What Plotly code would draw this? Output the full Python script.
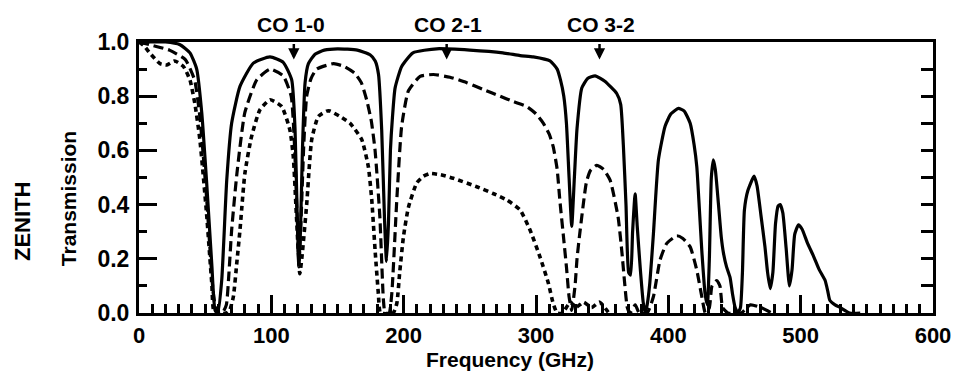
import plotly.graph_objects as go

# ---- data (frequency in GHz, zenith transmission) ----
solid_f = [0, 20, 31, 38.5, 43.6, 47.4, 51, 55, 57.5, 59.5, 62.5, 66.3, 70, 76.3, 86.4, 99, 109,
           115.4, 117.9, 119.6, 120.8, 122.0, 123.5, 125.5, 128, 133, 140, 150, 165, 174.6, 178.5,
           181, 183.4, 185.5, 187, 188.5, 190, 191.5, 193.5, 198.5, 207, 225, 250, 275, 288, 298,
           310.6, 316, 318.5, 321, 323, 325, 327, 329, 331, 334.6, 339, 344.7, 352, 361, 364, 366,
           368, 370, 371.5, 373, 374.9, 376.5, 378.7, 381, 382.5, 384, 386, 388.7, 392.5, 397.6,
           402, 407.6, 412, 416.5, 419.5, 421.5, 423.5, 425.3, 427.8, 429.5, 431, 432.5, 434,
           435.5, 437.9, 440, 441.7, 444, 446.7, 448.5, 450.5, 452.5, 454.5, 456, 457.5, 460,
           464.8, 467, 470, 473, 475, 477, 479, 481, 483, 484.5, 486.5, 489, 491.5, 493.5, 495.5,
           498.3, 501, 505, 509.7, 514, 518.5, 520.5, 522, 526, 530, 537, 545]
solid_t = [1.0, 1.0, 0.99, 0.96, 0.90, 0.74, 0.49, 0.18, 0.01, 0.0, 0.12, 0.49, 0.70, 0.836, 0.922,
           0.945, 0.925, 0.86, 0.68, 0.35, 0.18, 0.30, 0.60, 0.85, 0.92, 0.955, 0.97, 0.975, 0.97,
           0.953, 0.93, 0.88, 0.675, 0.35, 0.19, 0.33, 0.60, 0.72, 0.83, 0.91, 0.96, 0.975, 0.97,
           0.96, 0.95, 0.945, 0.93, 0.90, 0.86, 0.80, 0.70, 0.50, 0.32, 0.50, 0.68, 0.83, 0.865,
           0.875, 0.855, 0.81, 0.77, 0.62, 0.40, 0.15, 0.14, 0.30, 0.44, 0.32, 0.17, 0.04, 0.0,
           0.03, 0.11, 0.29, 0.565, 0.69, 0.735, 0.755, 0.745, 0.70, 0.62, 0.54, 0.38, 0.23, 0.07,
           0.03, 0.20, 0.50, 0.565, 0.53, 0.40, 0.28, 0.22, 0.17, 0.13, 0.07, 0.02, 0.0, 0.02, 0.15,
           0.38, 0.45, 0.505, 0.47, 0.36, 0.245, 0.15, 0.09, 0.15, 0.33, 0.395, 0.40, 0.37, 0.24,
           0.10, 0.16, 0.29, 0.325, 0.31, 0.26, 0.21, 0.16, 0.12, 0.08, 0.047, 0.03, 0.02, 0.0, 0.0]

dashed_f = [0, 8, 23, 35, 42, 46, 51, 56, 59, 63, 66, 68, 70, 74, 80, 89, 99, 109, 115, 117.5,
            119.5, 120.8, 122.5, 124.5, 126.7, 130, 134.3, 147, 155, 163, 168, 172, 175.5, 178.4,
            182, 184.7, 186, 189, 191, 194.8, 198.5, 203.6, 212.4, 222.5, 235, 247.7, 260, 272.9,
            283, 293, 300, 305.6, 310, 313, 316, 318, 321, 323, 325, 327, 329.5, 331, 333, 338,
            341, 346, 351, 356, 362, 365, 367, 369, 371, 375, 378, 384, 388.7, 393.7, 398.8,
            406.4, 411, 416.5, 421.5, 425.3, 428, 431, 433, 436.6, 439, 441, 445, 455, 462, 470,
            478]
dashed_t = [1.0, 0.99, 0.97, 0.935, 0.86, 0.725, 0.43, 0.08, 0.0, 0.0, 0.03, 0.15, 0.305, 0.515,
            0.74, 0.86, 0.90, 0.875, 0.80, 0.62, 0.35, 0.17, 0.35, 0.62, 0.80, 0.865, 0.90, 0.92,
            0.91, 0.885, 0.85, 0.787, 0.71, 0.60, 0.355, 0.047, 0.0, 0.0, 0.07, 0.417, 0.69, 0.82,
            0.873, 0.88, 0.87, 0.85, 0.825, 0.80, 0.78, 0.762, 0.735, 0.70, 0.66, 0.614, 0.53,
            0.417, 0.27, 0.17, 0.06, 0.01, 0.10, 0.20, 0.29, 0.48, 0.525, 0.545, 0.53, 0.49,
            0.355, 0.22, 0.11, 0.02, 0.0, 0.03, 0.0, 0.0, 0.06, 0.195, 0.257, 0.285, 0.275,
            0.244, 0.158, 0.06, 0.0, 0.02, 0.10, 0.12, 0.10, 0.02, 0.0, 0.0, 0.03, 0.02, 0.0]

dotted_f = [0, 4, 8, 15.9, 21, 27, 33.5, 38.5, 42.3, 46, 51, 55, 57, 66, 68.5, 71.3, 74, 76.3, 80,
            85, 91.4, 99, 107.8, 114, 116.6, 119, 121.5, 123, 126.7, 130.5, 135.5, 141.8, 144.4,
            152, 159.5, 168.3, 173.3, 175.9, 178.4, 180.9, 182.5, 192, 194.8, 197, 199.8, 203.6,
            209.9, 215, 220, 228, 237.6, 255.2, 268, 278, 288, 295.5, 303, 309.4, 313, 316, 320,
            326, 330, 336, 342, 348, 355]
dotted_t = [1.0, 0.985, 0.96, 0.92, 0.915, 0.93, 0.91, 0.86, 0.77, 0.64, 0.37, 0.11, 0.0, 0.0,
            0.01, 0.06, 0.19, 0.306, 0.515, 0.65, 0.75, 0.787, 0.762, 0.676, 0.577, 0.355, 0.145,
            0.20, 0.40, 0.64, 0.725, 0.745, 0.745, 0.725, 0.70, 0.64, 0.54, 0.417, 0.232, 0.07,
            0.0, 0.0, 0.035, 0.15, 0.28, 0.39, 0.48, 0.505, 0.515, 0.51, 0.497, 0.466, 0.44,
            0.417, 0.38, 0.306, 0.207, 0.109, 0.035, 0.0, 0.0, 0.04, 0.02, 0.04, 0.02, 0.04, 0.0]

co_labels = ["CO 1-0", "CO 2-1", "CO 3-2"]
co_marker_f = [117, 232.5, 348]
co_label_f = [115, 233.5, 349]

x_tick_vals = [0, 100, 200, 300, 400, 500, 600]
x_tick_text = ["0", "100", "200", "300", "400", "500", "600"]
y_tick_vals = [0.0, 0.2, 0.4, 0.6, 0.8, 1.0]
y_tick_text = ["0.0", "0.2", "0.4", "0.6", "0.8", "1.0"]

FONT = "Liberation Sans"
BLACK = "#000000"

fig = go.Figure()
fig.add_trace(go.Scatter(x=solid_f, y=solid_t, mode="lines",
                         line=dict(color=BLACK, width=3.2, shape="spline", smoothing=0.5),
                         showlegend=False, hoverinfo="skip"))
fig.add_trace(go.Scatter(x=dashed_f, y=dashed_t, mode="lines",
                         line=dict(color=BLACK, width=3.2, dash="10px,5px", shape="spline", smoothing=0.5),
                         showlegend=False, hoverinfo="skip"))
fig.add_trace(go.Scatter(x=dotted_f, y=dotted_t, mode="lines",
                         line=dict(color=BLACK, width=3.6, dash="5px,4px", shape="spline", smoothing=0.5),
                         showlegend=False, hoverinfo="skip"))
# helper trace so the right-hand tick axis is drawn
fig.add_trace(go.Scatter(x=[0], y=[0], yaxis="y2", mode="markers", marker=dict(opacity=0),
                         showlegend=False, hoverinfo="skip"))

axis_common = dict(showgrid=False, zeroline=False, showline=True, linecolor=BLACK, linewidth=3,
                   tickcolor=BLACK, tickwidth=2.5)

fig.update_layout(
    width=963, height=377,
    margin=dict(l=139, r=30, t=42, b=64),
    paper_bgcolor="white", plot_bgcolor="white",
    font=dict(family=FONT, color=BLACK),
    xaxis=dict(range=[0, 600], ticks="inside", ticklen=18, tickvals=x_tick_vals, ticktext=x_tick_text,
               minor=dict(ticks="inside", ticklen=9, dtick=10, tickcolor=BLACK, tickwidth=2.5),
               mirror=True, tickfont=dict(size=22, family=FONT, weight="bold", color=BLACK),
               ticklabelstandoff=1, **axis_common),
    yaxis=dict(range=[0, 1.0], ticks="inside", ticklen=18, tickvals=y_tick_vals, ticktext=y_tick_text,
               minor=dict(ticks="inside", ticklen=8, dtick=0.1, tickcolor=BLACK, tickwidth=2.5),
               mirror=True, tickfont=dict(size=23, family=FONT, weight="bold", color=BLACK),
               ticklabelstandoff=2, **axis_common),
    yaxis2=dict(range=[0, 1.0], overlaying="y", side="right", ticks="inside", ticklen=12, dtick=0.1,
                showticklabels=False, showgrid=False, zeroline=False, showline=False,
                tickcolor=BLACK, tickwidth=2.5),
)

# CO line labels and arrows
for lab, fm, fl in zip(co_labels, co_marker_f, co_label_f):
    fig.add_annotation(x=fl, y=1.063, xref="x", yref="paper", text=lab, showarrow=False,
                       xanchor="center", yanchor="middle",
                       font=dict(size=21, family=FONT, weight="bold", color=BLACK))
    fig.add_annotation(x=fm, y=0.935, xref="x", yref="y", ax=0, ay=-17, text="",
                       showarrow=True, arrowhead=2, arrowsize=0.9, arrowwidth=2.5, arrowcolor=BLACK)

fig.add_annotation(x=0.467, y=-0.172, xref="paper", yref="paper", text="Frequency (GHz)",
                   xanchor="center", yanchor="middle",
                   showarrow=False, font=dict(size=21, family=FONT, weight="bold", color=BLACK))
fig.add_annotation(x=-0.0894, y=0.42, xref="paper", yref="paper", text="Transmission", textangle=-90,
                   xanchor="center", yanchor="middle",
                   showarrow=False, font=dict(size=21, family=FONT, weight="bold", color=BLACK))
fig.add_annotation(x=-0.146, y=0.336, xref="paper", yref="paper", text="ZENITH", textangle=-90,
                   xanchor="center", yanchor="middle",
                   showarrow=False, font=dict(size=22, family=FONT, weight="bold", color=BLACK))

fig.write_html("out.html", config={"displayModeBar": False},
               post_script="document.body.style.margin='0';document.body.style.overflow='hidden';")
